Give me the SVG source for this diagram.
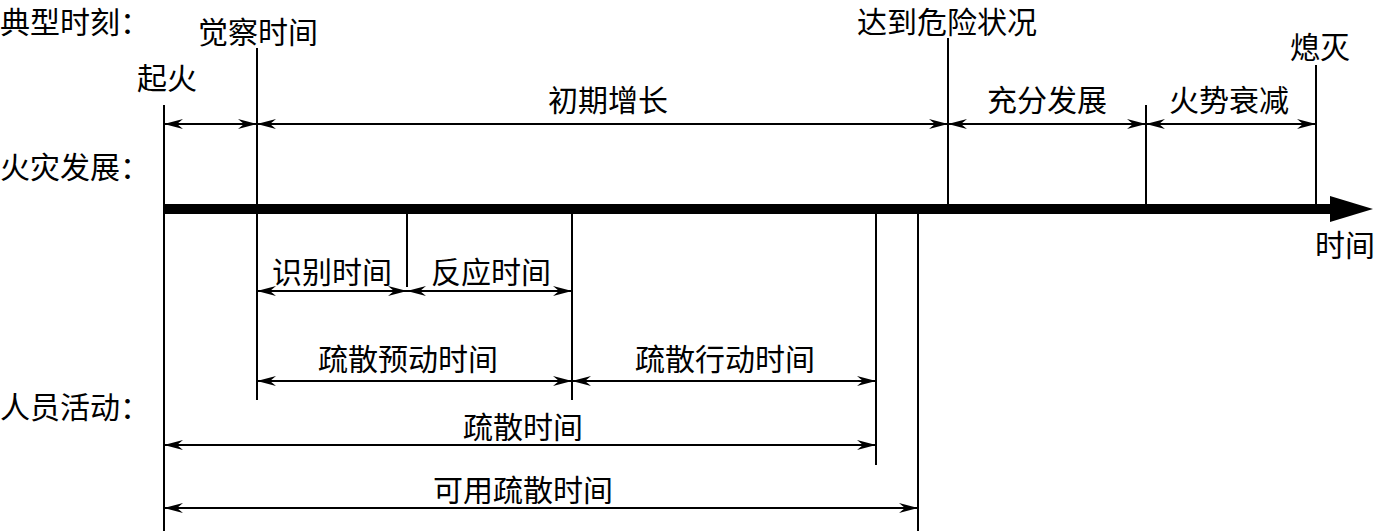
<svg xmlns="http://www.w3.org/2000/svg" width="1375" height="531" viewBox="0 0 1375 531">
<style>
text{font-family:"Noto Sans CJK SC","Noto Sans",sans-serif;font-size:30px;fill:#000;dominant-baseline:central}
.m{text-anchor:middle}
.v{stroke:#000;stroke-width:2;fill:none}
.a{stroke:#000;stroke-width:2;fill:none;marker-start:url(#ah);marker-end:url(#ah)}
</style>
<defs>
<marker id="ah" markerUnits="userSpaceOnUse" markerWidth="20" markerHeight="12" refX="19" refY="6" orient="auto-start-reverse">
<path d="M0,1 L19,6 L0,11 L6,6 Z" fill="#000"/>
</marker>
</defs>
<rect width="1375" height="531" fill="#fff"/>
<g id="labels">
<text x="0" y="20">典型时刻：</text>
<text x="0" y="165">火灾发展：</text>
<text x="0" y="405">人员活动：</text>
</g>
<g id="axis">
<line x1="164" y1="209" x2="1334" y2="209" stroke="#000" stroke-width="10"/>
<polygon points="1330,196 1373,209 1330,222" fill="#000"/>
<text class="m" x="1345" y="243">时间</text>
</g>
<g id="moments">
<g id="n-ignite"><text class="m" x="167" y="76">起火</text><line class="v" x1="164" y1="105" x2="164" y2="531"/></g>
<g id="n-detect"><text class="m" x="258" y="30">觉察时间</text><line class="v" x1="257" y1="48" x2="257" y2="400"/></g>
<g id="n-danger"><text class="m" x="947" y="20">达到危险状况</text><line class="v" x1="948" y1="38" x2="948" y2="209"/></g>
<g id="n-full"><line class="v" x1="1146" y1="105" x2="1146" y2="209"/></g>
<g id="n-out"><text class="m" x="1320" y="45">熄灭</text><line class="v" x1="1316" y1="65" x2="1316" y2="209"/></g>
<g id="n-recog"><line class="v" x1="407" y1="209" x2="407" y2="287"/></g>
<g id="n-pre"><line class="v" x1="572" y1="209" x2="572" y2="400"/></g>
<g id="n-evac"><line class="v" x1="876" y1="209" x2="876" y2="465"/></g>
<g id="n-aset"><line class="v" x1="918" y1="209" x2="918" y2="531"/></g>
</g>
<g id="connectors">
<line class="a" x1="164" y1="124" x2="257" y2="124"/>
<line class="a" x1="257" y1="124" x2="948" y2="124"/>
<line class="a" x1="948" y1="124" x2="1146" y2="124"/>
<line class="a" x1="1146" y1="124" x2="1316" y2="124"/>
<line class="a" x1="257" y1="291" x2="407" y2="291"/>
<line class="a" x1="407" y1="291" x2="572" y2="291"/>
<line class="a" x1="257" y1="381" x2="572" y2="381"/>
<line class="a" x1="572" y1="381" x2="876" y2="381"/>
<line class="a" x1="164" y1="445" x2="876" y2="445"/>
<line class="a" x1="164" y1="508" x2="918" y2="508"/>
</g>
<g id="span-labels">
<text class="m" x="608" y="98">初期增长</text>
<text class="m" x="1047" y="98">充分发展</text>
<text class="m" x="1229" y="98">火势衰减</text>
<text class="m" x="332" y="270">识别时间</text>
<text class="m" x="491" y="270">反应时间</text>
<text class="m" x="408" y="357">疏散预动时间</text>
<text class="m" x="725" y="357">疏散行动时间</text>
<text class="m" x="523" y="425">疏散时间</text>
<text class="m" x="523" y="488">可用疏散时间</text>
</g>
</svg>
